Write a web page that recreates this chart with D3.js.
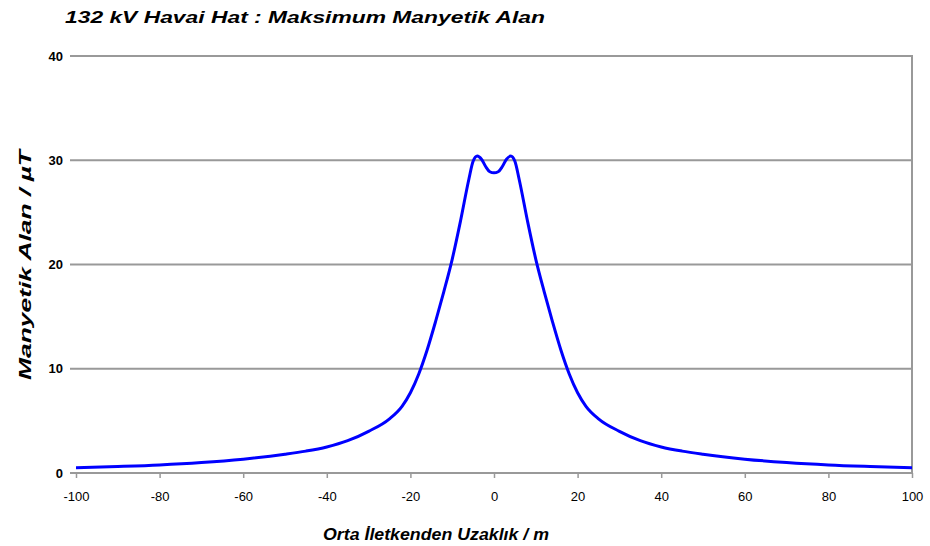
<!DOCTYPE html>
<html><head><meta charset="utf-8">
<script src="https://cdn.jsdelivr.net/npm/d3@7"></script>
<style>body{margin:0;background:#fff}svg{display:block}</style>
</head><body>
<svg id="c" width="930" height="546"></svg>
<script>
const title = "132 kV Havai Hat : Maksimum Manyetik Alan";
const xLabel = "Orta İletkenden Uzaklık / m";
const yLabel = "Manyetik Alan / µT";
const xTicks = [-100,-80,-60,-40,-20,0,20,40,60,80,100];
const yTicks = [0,10,20,30,40];
const distance = [-100,-90,-80,-70,-60,-50,-45,-40,-35,-30,-25,-22,-20,-18,-16,-14,-12,-10,-8,-6,-5,-4,-3,-2,-1,0,
  1,2,3,4,5,6,8,10,12,14,16,18,20,22,25,30,35,40,45,50,60,70,80,90,100];
const field = [0.5,0.62,0.77,1.0,1.33,1.8,2.1,2.5,3.1,4.0,5.2,6.4,7.7,9.5,11.8,14.5,17.4,20.5,24.2,28.2,29.9,30.4,30.1,29.4,28.9,28.8,
  28.9,29.4,30.1,30.4,29.9,28.2,24.2,20.5,17.4,14.5,11.8,9.5,7.7,6.4,5.2,4.0,3.1,2.5,2.1,1.8,1.33,1.0,0.77,0.62,0.5];

const svg = d3.select("#c");
const L = 76, R = 912, T = 56, B = 473;
const x = d3.scaleLinear().domain([-100,100]).range([L,R]);
const y = d3.scaleLinear().domain([0,40]).range([B,T]);
const grid = "#999";

svg.append("g").selectAll("line").data(yTicks.filter(d=>d>0)).join("line")
  .attr("x1", L-6).attr("x2", R).attr("y1", d=>y(d)).attr("y2", d=>y(d))
  .attr("stroke", grid).attr("stroke-width", 2);
svg.append("line").attr("x1", R).attr("x2", R).attr("y1", T-1).attr("y2", B)
  .attr("stroke", grid).attr("stroke-width", 2);

const xAxis = d3.axisBottom(x).tickValues(xTicks).tickSize(5).tickSizeOuter(0).tickFormat(d=>d);
const gx = svg.append("g").attr("transform", `translate(0,${B})`).call(xAxis);
gx.select(".domain").remove();
gx.selectAll(".tick line").attr("stroke", grid).attr("stroke-width", 1.5);
gx.selectAll(".tick text").attr("font-family","Liberation Sans, Arial, sans-serif").attr("font-size", 13).attr("fill","#000").attr("dy","1.5em");
svg.append("line").attr("x1", L-6).attr("x2", R).attr("y1", B).attr("y2", B).attr("stroke", grid).attr("stroke-width", 2);

const yAxis = d3.axisLeft(y).tickValues(yTicks).tickSize(6).tickFormat(d=>d);
const gy = svg.append("g").attr("transform", `translate(${L},0)`).call(yAxis);
gy.select(".domain").remove();
gy.selectAll(".tick line").remove();
gy.selectAll(".tick text").attr("font-family","Liberation Sans, Arial, sans-serif").attr("font-size", 13).attr("font-weight","bold").attr("fill","#000").attr("x", -13);

const line = d3.line().x((d,i)=>x(distance[i])).y(d=>y(d)).curve(d3.curveMonotoneX);
svg.append("path").datum(field).attr("d", line).attr("fill","none")
  .attr("stroke","#0000ff").attr("stroke-width", 3);

svg.append("text").attr("x", 65).attr("y", 23).text(title)
  .attr("font-family","Liberation Sans, Arial, sans-serif").attr("font-weight","bold").attr("font-style","italic")
  .attr("font-size", 17).attr("textLength", 480).attr("lengthAdjust","spacingAndGlyphs");
svg.append("text").attr("x", 436).attr("y", 540).attr("text-anchor","middle").text(xLabel)
  .attr("font-family","Liberation Sans, Arial, sans-serif").attr("font-weight","bold").attr("font-style","italic")
  .attr("font-size", 17).attr("textLength", 226).attr("lengthAdjust","spacingAndGlyphs");
svg.append("text").attr("transform","translate(31,265) rotate(-90)").attr("text-anchor","middle").text(yLabel)
  .attr("font-family","Liberation Sans, Arial, sans-serif").attr("font-weight","bold").attr("font-style","italic")
  .attr("font-size", 17).attr("textLength", 230).attr("lengthAdjust","spacingAndGlyphs");
</script>
</body></html>
